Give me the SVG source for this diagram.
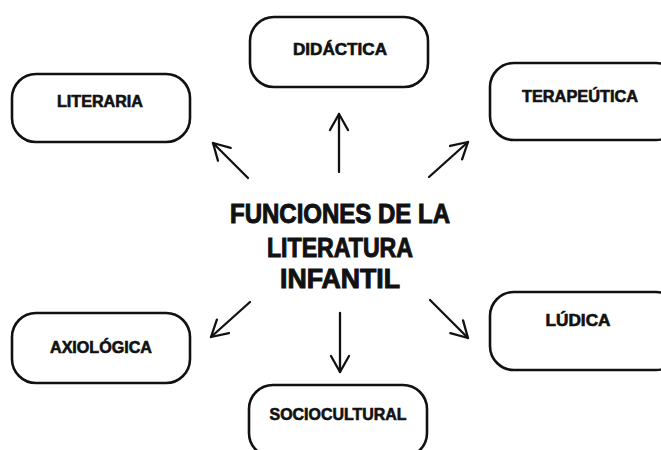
<svg xmlns="http://www.w3.org/2000/svg" width="661" height="450" viewBox="0 0 661 450">
<defs>
<style>
.box{fill:#fff;stroke:#111;stroke-width:2.6}
.lbl{font-family:"Liberation Sans",Arial,sans-serif;font-weight:700;font-size:16px;fill:#111;stroke:#111;stroke-width:0.6;text-anchor:middle}
.ttl{font-family:"Liberation Sans",Arial,sans-serif;font-weight:700;font-size:27px;fill:#111;stroke:#111;stroke-width:1;text-anchor:middle}
.arr{stroke:#111;stroke-width:2.3;fill:none;stroke-linecap:round;marker-end:url(#head)}
</style>
<marker id="head" viewBox="-20 -12 24 24" markerWidth="24" markerHeight="24" refX="0" refY="0" orient="auto" markerUnits="userSpaceOnUse">
<path d="M-16,-9 L0,0 L-16,9" fill="none" stroke="#111" stroke-width="2.3" stroke-linecap="round" stroke-linejoin="round"/>
</marker>
</defs>
<rect width="661" height="450" fill="#fff"/>
<g id="center">
<text class="ttl" x="340" y="223" textLength="220" lengthAdjust="spacingAndGlyphs">FUNCIONES DE LA</text>
<text class="ttl" x="340" y="257" textLength="146" lengthAdjust="spacingAndGlyphs">LITERATURA</text>
<text class="ttl" x="340" y="288" textLength="120" lengthAdjust="spacingAndGlyphs">INFANTIL</text>
</g>
<g id="literaria">
<rect class="box" x="12" y="74" width="178" height="68" rx="24"/>
<text class="lbl" x="100" y="107" textLength="86" lengthAdjust="spacingAndGlyphs">LITERARIA</text>
</g>
<g id="didactica">
<rect class="box" x="250" y="17" width="178" height="70" rx="24"/>
<text class="lbl" x="340" y="55" textLength="94" lengthAdjust="spacingAndGlyphs">DIDÁCTICA</text>
</g>
<g id="terapeutica">
<rect class="box" x="490" y="63" width="190" height="77" rx="24"/>
<text class="lbl" x="580" y="102" textLength="116" lengthAdjust="spacingAndGlyphs">TERAPEÚTICA</text>
</g>
<g id="axiologica">
<rect class="box" x="12" y="313" width="178" height="70" rx="24"/>
<text class="lbl" x="101" y="353" textLength="102" lengthAdjust="spacingAndGlyphs">AXIOLÓGICA</text>
</g>
<g id="ludica">
<rect class="box" x="490" y="292" width="190" height="78" rx="24"/>
<text class="lbl" x="578" y="326" textLength="65" lengthAdjust="spacingAndGlyphs">LÚDICA</text>
</g>
<g id="sociocultural">
<rect class="box" x="249" y="385" width="178" height="72" rx="24"/>
<text class="lbl" x="338" y="420" textLength="137" lengthAdjust="spacingAndGlyphs">SOCIOCULTURAL</text>
</g>
<g id="connectors">
<line class="arr" x1="248" y1="178" x2="213" y2="143"/>
<line class="arr" x1="339" y1="172" x2="339" y2="114"/>
<line class="arr" x1="429" y1="177" x2="468" y2="142"/>
<line class="arr" x1="250" y1="302" x2="211" y2="337"/>
<line class="arr" x1="340" y1="313" x2="340" y2="372"/>
<line class="arr" x1="430" y1="300" x2="468" y2="338"/>
</g>
</svg>
